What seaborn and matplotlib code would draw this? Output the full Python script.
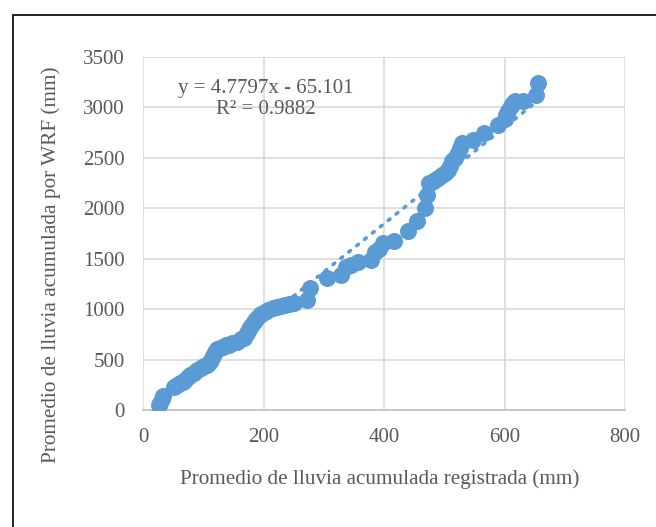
import matplotlib as mpl
mpl.use('Agg')
import matplotlib.pyplot as plt
import seaborn as sns
import pandas as pd
import numpy as np
from matplotlib.patches import Rectangle

registrada = [27, 29, 31, 33, 52, 57, 62, 66, 70, 74, 78, 84, 90, 96, 102, 106, 110, 113, 116, 119,
              122, 127, 132, 137, 142, 148, 156, 163, 168, 172, 176, 180, 184, 188, 192, 196, 202,
              208, 215, 222, 229, 236, 243, 250, 272, 277, 305, 329, 336, 345, 357, 378, 385, 392,
              399, 416, 440, 454, 468, 471, 475, 480, 485, 490, 496, 501, 506, 510, 513, 518, 523,
              526, 530, 548, 565, 589, 600, 603, 606, 610, 614, 617, 631, 652, 655]
wrf = [45, 70, 110, 140, 232, 250, 265, 281, 300, 330, 347, 370, 397, 415, 440, 450, 470, 500, 540,
       579, 600, 612, 625, 640, 645, 660, 678, 700, 711, 760, 800, 835, 870, 900, 930, 955, 976, 990,
       1009, 1020, 1035, 1042, 1050, 1065, 1092, 1207, 1307, 1340, 1422, 1440, 1472, 1489, 1571,
       1600, 1654, 1671, 1770, 1869, 2001, 2134, 2249, 2265, 2283, 2300, 2332, 2350, 2382, 2420,
       2464, 2500, 2547, 2600, 2646, 2680, 2746, 2828, 2880, 2927, 2960, 3010, 3040, 3060, 3060,
       3126, 3242]

# trendline coefficients as printed on the chart
pendiente = 4.7797
intercepto = -65.101
ecuacion = "y = 4.7797x - 65.101\nR² = 0.9882"

xticks = [0, 200, 400, 600, 800]
yticks = [0, 500, 1000, 1500, 2000, 2500, 3000, 3500]

df = pd.DataFrame({"registrada": registrada, "wrf": wrf})

sns.set_style("white")
plt.rcParams['font.family'] = ['Liberation Serif', 'DejaVu Serif']
azul = "#5B9BD5"
fs = 15

fig = plt.figure(figsize=(6.56, 5.27), dpi=100)
ax = fig.add_axes([0.218, 0.222, 0.735, 0.670])

# outer frame of the figure (cut off on right/bottom like the source)
fig.patches.append(Rectangle((0.0198, -0.05), 1.1, 0.9715 + 0.05, transform=fig.transFigure,
                             fill=False, edgecolor="black", linewidth=1.2))

sns.scatterplot(data=df, x="registrada", y="wrf", ax=ax, color=azul, s=150,
                edgecolor=azul, linewidth=0, zorder=3, legend=False)

xs = np.array([min(registrada), max(registrada)])
ax.plot(xs, pendiente * xs + intercepto, color=azul, linestyle=(0, (0.6, 2.2)),
        linewidth=2.6, dash_capstyle="round", zorder=4)

ax.set_xlim(0, 800)
ax.set_ylim(0, 3500)
ax.set_xticks(xticks)
ax.set_yticks(yticks)
ax.grid(True, color="#D9D9D9", linewidth=1.2)
ax.set_axisbelow(True)
for s in ["top", "right", "left"]:
    ax.spines[s].set_visible(False)
ax.spines["bottom"].set_color("#BFBFBF")
ax.spines["bottom"].set_linewidth(1.2)
ax.tick_params(length=0, labelsize=fs, colors="#595959")
ax.tick_params(axis="y", pad=13)
ax.tick_params(axis="x", pad=13)

ax.set_xlabel("Promedio de lluvia acumulada registrada (mm)", fontsize=15.2, color="#595959",
              labelpad=16, x=0.49)
ax.set_ylabel("Promedio de lluvia acumulada por WRF (mm)", fontsize=15.3, color="#595959",
              labelpad=16, y=0.41)

ax.text(204, 3085, ecuacion, fontsize=fs, color="#595959", ha="center", va="center",
        linespacing=1.12)

fig.savefig("out.png", dpi=100)
